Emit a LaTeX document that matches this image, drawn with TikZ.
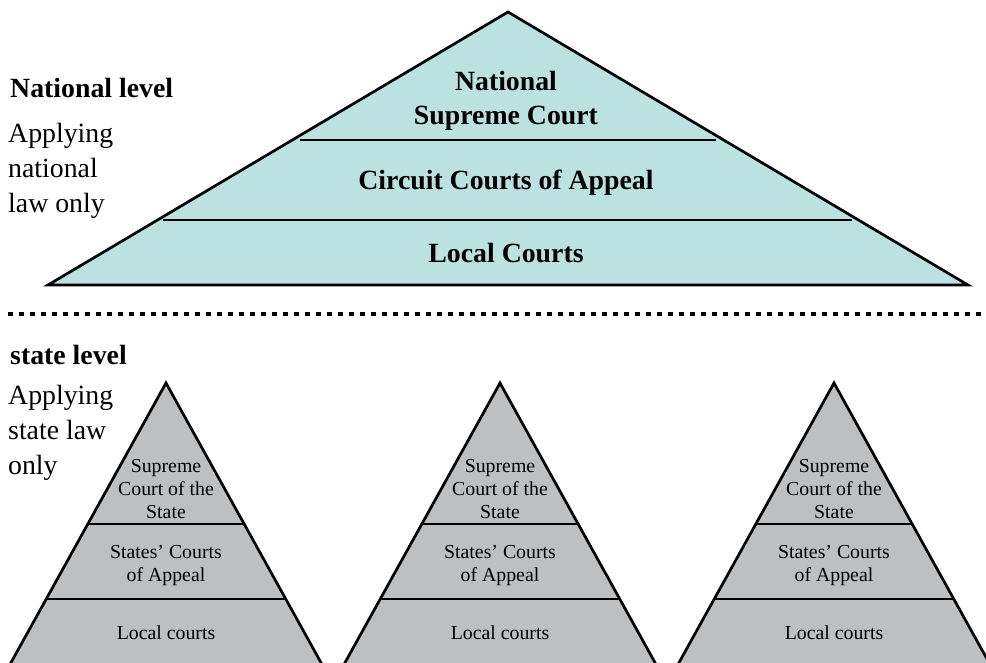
\documentclass[tikz,border=0pt]{standalone}
\usepackage{fontspec}
\setmainfont{Liberation Serif}
\definecolor{natfill}{RGB}{187,225,224}
\definecolor{statefill}{RGB}{190,191,193}
\begin{document}
\begin{tikzpicture}[x=1pt,y=-1pt,
  outline/.style={draw=black, line width=2.7pt, line join=miter, line cap=butt},
  tierline/.style={draw=black, line width=1.3pt},
  tierlinethick/.style={draw=black, line width=1.9pt},
  levelhead/.style={font=\fontsize{27.8}{35}\selectfont\bfseries, anchor=base west, inner sep=0pt},
  levelnote/.style={font=\fontsize{27.8}{35}\selectfont, anchor=base west, inner sep=0pt},
  nattext/.style={font=\fontsize{27.8}{35}\selectfont\bfseries, anchor=base, inner sep=0pt},
  statetext/.style={font=\fontsize{19.8}{23}\selectfont, anchor=base, inner sep=0pt},
  separator/.style={draw=black, line width=4.4pt, dash pattern=on 5pt off 6pt}
]
\useasboundingbox (0,0) rectangle (986,662);

% national pyramid
\filldraw[fill=natfill, outline] (48,285) -- (508,12) -- (968,285) -- cycle;
\draw[tierline] (300,140) -- (716,140);
\draw[tierline] (163,220) -- (852,220);
\node[nattext] (natA) at (506,90) {National};
\node[nattext] (natB) at (506,124) {Supreme Court};
\node[nattext] (circuit) at (506,189) {Circuit Courts of Appeal};
\node[nattext] (natlocal) at (506,262) {Local Courts};

% national level caption
\node[levelhead] (natlevel) at (10,97) {National level};
\node[levelnote] (natnoteA) at (8,142) {Applying};
\node[levelnote] (natnoteB) at (8,177) {national};
\node[levelnote] (natnoteC) at (8,212) {law only};

% separator between the levels
\coordinate (sepL) at (8,314);
\coordinate (sepR) at (986,314);
\draw[separator] (sepL) -- (sepR);

% state level caption
\node[levelhead] (statelevel) at (10,364) {state level};
\node[levelnote] (statenoteA) at (8,404) {Applying};
\node[levelnote] (statenoteB) at (8,439) {state law};
\node[levelnote] (statenoteC) at (8,474) {only};

% state pyramids
\foreach \cx [count=\i] in {166,500,834} {
  \fill[statefill] ({\cx-158},668) -- (\cx,383) -- ({\cx+158},668) -- cycle;
  \draw[tierline] ({\cx-78.3},524) -- ({\cx+78.3},524);
  \draw[tierlinethick] ({\cx-120},599) -- ({\cx+120},599);
  \draw[outline] ({\cx-158},668) -- (\cx,383) -- ({\cx+158},668);
  \node[statetext] (supA\i) at (\cx,472.5) {Supreme};
  \node[statetext] (supB\i) at (\cx,495.5) {Court of the};
  \node[statetext] (supC\i) at (\cx,518.5) {State};
  \node[statetext] (appA\i) at (\cx,558.5) {States’ Courts};
  \node[statetext] (appB\i) at (\cx,581.5) {of Appeal};
  \node[statetext] (loc\i) at (\cx,639.5) {Local courts};
}
\end{tikzpicture}
\end{document}
